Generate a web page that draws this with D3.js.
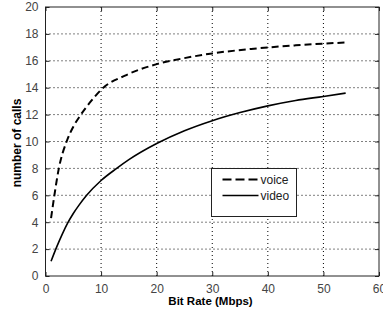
<!DOCTYPE html>
<html>
<head>
<meta charset="utf-8">
<script src="https://cdn.jsdelivr.net/npm/d3@7"></script>
<style>
  html, body { margin: 0; padding: 0; background: #fff; }
  svg { display: block; }
  .tick text { font-family: "Liberation Sans", Arial, sans-serif; font-size: 12px; fill: #444; }
  .label { font-family: "Liberation Sans", Arial, sans-serif; font-weight: bold; fill: #000; }
  .leg { font-family: "Liberation Sans", Arial, sans-serif; font-size: 12px; fill: #222; }
</style>
</head>
<body>
<div class="container"></div>
<script>
const w = 383;
const h = 314;
const margin = {
  top: 7,
  bottom: 38,
  left: 45.5,
  right: 4
}

const xTicks = [0, 10, 20, 30, 40, 50, 60];
const yTicks = [0, 2, 4, 6, 8, 10, 12, 14, 16, 18, 20];

const voiceRate = [1, 1.6, 2.4, 3.8, 5, 6.2, 8, 10.4, 14.3, 20, 25, 30, 37, 45, 50, 54];
const voiceCalls = [4.3, 6, 8, 10, 11.1, 11.9, 12.9, 14, 14.9, 15.75, 16.2, 16.55, 16.88, 17.15, 17.28, 17.36];

const videoRate = [1, 2, 3, 4, 5, 6, 7.4, 10, 12.8, 15, 20, 25, 30, 35, 40, 45, 50, 54];
const videoCalls = [1.1, 2.15, 3.1, 3.95, 4.65, 5.25, 6, 7.1, 8, 8.65, 9.85, 10.8, 11.55, 12.15, 12.65, 13.05, 13.35, 13.6];

const series = [
  {name: 'voice', x: voiceRate, y: voiceCalls, dash: '7,4', width: 2},
  {name: 'video', x: videoRate, y: videoCalls, dash: null, width: 1.6}
];

const svg = d3.select('.container').append('svg')
        .attr('width', w)
        .attr('height', h);

const x = d3.scaleLinear()
    .domain([0, 60])
    .range([margin.left, w - margin.right]);

const y = d3.scaleLinear()
    .domain([0, 20])
    .range([h - margin.bottom, margin.top]);

// grid
const grid = svg.append('g');
grid.selectAll('line.gx')
    .data(xTicks.slice(1, -1))
    .enter().append('line')
      .attr('x1', d => x(d)).attr('x2', d => x(d))
      .attr('y1', y(0)).attr('y2', y(20))
      .attr('stroke', '#000')
      .attr('stroke-width', 1)
      .attr('stroke-dasharray', '1,3');
grid.selectAll('line.gy')
    .data(yTicks.slice(1, -1))
    .enter().append('line')
      .attr('y1', d => y(d)).attr('y2', d => y(d))
      .attr('x1', x(0)).attr('x2', x(60))
      .attr('stroke', '#000')
      .attr('stroke-width', 1)
      .attr('stroke-dasharray', '1,3');

// axes, inward ticks like matlab
const xAxis = d3.axisBottom(x).tickValues(xTicks).tickSize(-4).tickPadding(8);
const yAxis = d3.axisLeft(y).tickValues(yTicks).tickSize(-4).tickPadding(7);

svg.append('g')
    .attr('transform', `translate(0, ${y(0)})`)
    .call(xAxis)
    .call(g => g.select('.domain').remove());
svg.append('g')
    .attr('transform', `translate(${x(0)}, 0)`)
    .call(yAxis)
    .call(g => g.select('.domain').remove());
svg.append('g')
    .attr('transform', `translate(0, ${y(20)})`)
    .call(d3.axisTop(x).tickValues(xTicks).tickSize(-4).tickFormat(''))
    .call(g => g.select('.domain').remove());
svg.append('g')
    .attr('transform', `translate(${x(60)}, 0)`)
    .call(d3.axisRight(y).tickValues(yTicks).tickSize(-4).tickFormat(''))
    .call(g => g.select('.domain').remove());

svg.selectAll('.tick line').attr('stroke', '#222');

svg.append('rect')
    .attr('x', x(0)).attr('y', y(20))
    .attr('width', x(60) - x(0))
    .attr('height', y(0) - y(20))
    .attr('fill', 'none')
    .attr('stroke', '#222')
    .attr('stroke-width', 1);

// curves
const line = d3.line()
    .x(d => x(d[0]))
    .y(d => y(d[1]))
    .curve(d3.curveMonotoneX);

svg.append('g').selectAll('path')
    .data(series)
    .enter().append('path')
      .attr('d', s => line(s.x.map((v, i) => [v, s.y[i]])))
      .attr('fill', 'none')
      .attr('stroke', '#000')
      .attr('stroke-width', s => s.width)
      .attr('stroke-dasharray', s => s.dash);

// labels
svg.append('text')
    .attr('class', 'label')
    .attr('x', 210.5)
    .attr('y', 305)
    .attr('font-size', 11.5)
    .attr('text-anchor', 'middle')
    .text('Bit Rate (Mbps)');

svg.append('text')
    .attr('class', 'label')
    .attr('font-size', 12)
    .attr('transform', `translate(21, 143) rotate(-90)`)
    .attr('text-anchor', 'middle')
    .text('number of calls');

// legend
const legend = svg.append('g')
    .attr('transform', 'translate(211.5, 168.5)');
legend.append('rect')
    .attr('width', 85)
    .attr('height', 48)
    .attr('fill', '#fff')
    .attr('stroke', '#222')
    .attr('stroke-width', 1);
legend.selectAll('g.item')
    .data(series)
    .enter().append('g')
      .attr('transform', (d, i) => `translate(0, ${11 + i * 16})`)
      .each(function(d) {
        const g = d3.select(this);
        g.append('line')
          .attr('x1', 11).attr('x2', 47)
          .attr('stroke', '#000')
          .attr('stroke-width', d.width)
          .attr('stroke-dasharray', d.dash ? '9,4' : null);
        g.append('text')
          .attr('class', 'leg')
          .attr('x', 49)
          .attr('y', 4)
          .text(d.name);
      });
</script>
</body>
</html>
